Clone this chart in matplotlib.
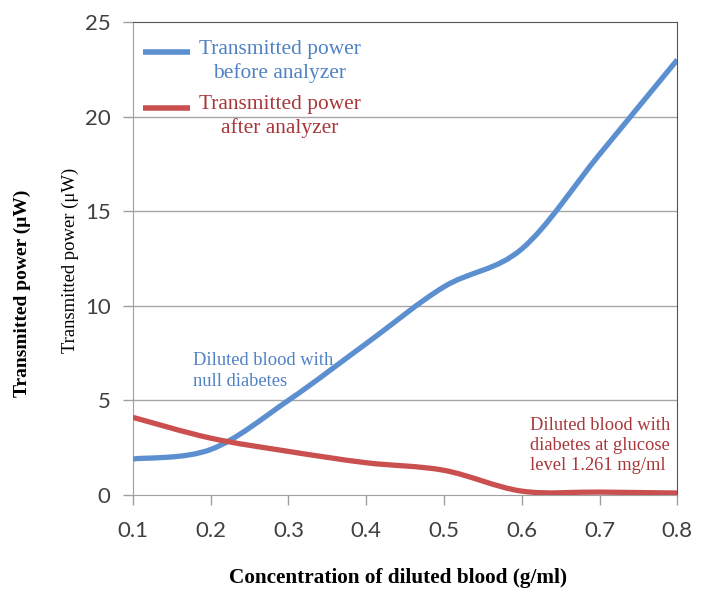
import numpy as np
import matplotlib
matplotlib.use("Agg")
import matplotlib.pyplot as plt
from matplotlib.path import Path
from matplotlib.patches import PathPatch
from matplotlib.lines import Line2D

# Concentration of diluted blood (g/ml)
conc = [0.1, 0.2, 0.3, 0.4, 0.5, 0.6, 0.7, 0.8]
# Transmitted power (uW)
power_before = [1.9, 2.4, 5.0, 8.0, 11.0, 13.0, 18.0, 23.0]
power_after = [4.1, 3.0, 2.3, 1.7, 1.3, 0.2, 0.15, 0.1]

yticks = [0, 5, 10, 15, 20, 25]
xticks = conc

blue = "#5b8fd0"
red = "#c9504f"
blue_txt = "#4f81c4"
red_txt = "#a8373b"

serif = "Liberation Serif"
tickfont = ["Lato", "DejaVu Sans"]


def smooth_path(x, y):
    # Excel-style smoothed line: cubic Bezier through every point
    pts = np.column_stack([x, y]).astype(float)
    ext = np.vstack([pts[0], pts, pts[-1]])
    verts = [pts[0]]
    codes = [Path.MOVETO]
    for i in range(len(pts) - 1):
        p0, p1, p2, p3 = ext[i], ext[i + 1], ext[i + 2], ext[i + 3]
        c1 = p1 + (p2 - p0) / 6.0
        c2 = p2 - (p3 - p1) / 6.0
        verts += [c1, c2, p2]
        codes += [Path.CURVE4] * 3
    return Path(verts, codes)


fig = plt.figure(figsize=(7.07, 5.92), dpi=100)
ax = fig.add_axes([0.188, 0.164, 0.770, 0.799])

ax.set_xlim(0.1, 0.8)
ax.set_ylim(0, 25)
ax.set_xticks(xticks)
ax.set_xticklabels([f"{v:.1f}" for v in xticks])
ax.set_yticks(yticks)

for t in yticks[1:-1]:
    ax.axhline(t, color="#a6a6a6", lw=1.0, zorder=1)

for series, col in [(power_before, blue), (power_after, red)]:
    ax.add_patch(PathPatch(smooth_path(conc, series), fill=False,
                           edgecolor=col, lw=3.8, capstyle="butt", zorder=3))

for side in ["left", "bottom"]:
    ax.spines[side].set_color("#a0a0a0")
for side in ["top", "right"]:
    ax.spines[side].set_color("#555555")
ax.tick_params(axis="both", direction="out", color="#a0a0a0", length=7,
               width=1, labelsize=16, labelcolor="#404040")
ax.tick_params(axis="x", pad=12)
ax.tick_params(axis="y", pad=9)
for lab in ax.get_xticklabels() + ax.get_yticklabels():
    lab.set_family(tickfont)

# legend
ax.add_line(Line2D([0.018, 0.105], [0.936, 0.936], transform=ax.transAxes,
                   color=blue, lw=4, solid_capstyle="butt"))
ax.add_line(Line2D([0.018, 0.105], [0.818, 0.818], transform=ax.transAxes,
                   color=red, lw=4, solid_capstyle="butt"))
ax.text(0.27, 0.9165, "Transmitted power\nbefore analyzer", transform=ax.transAxes,
        ha="center", va="center", color=blue_txt, family=serif, fontsize=15.4,
        linespacing=1.27)
ax.text(0.27, 0.800, "Transmitted power\nafter analyzer", transform=ax.transAxes,
        ha="center", va="center", color=red_txt, family=serif, fontsize=15.4,
        linespacing=1.27)

ax.text(0.177, 6.55, "Diluted blood with\nnull diabetes", color=blue_txt,
        family=serif, fontsize=13.3, va="center", linespacing=1.27)
ax.text(0.611, 2.62, "Diluted blood with\ndiabetes at glucose\nlevel 1.261 mg/ml",
        color=red_txt, family=serif, fontsize=13.3, va="center", linespacing=1.25)

fig.text(0.099, 0.561, "Transmitted power (\u03bcW)", rotation=90, ha="center",
         va="center", family=serif, fontsize=13.4)
fig.text(0.031, 0.505, "Transmitted power (\u03bcW)", rotation=90, ha="center",
         va="center", family=serif, fontsize=14, fontweight="bold")
fig.text(0.563, 0.024, "Concentration of diluted blood (g/ml)", ha="center",
         va="center", family=serif, fontsize=15.3, fontweight="bold")

fig.savefig("out.png", dpi=100)
